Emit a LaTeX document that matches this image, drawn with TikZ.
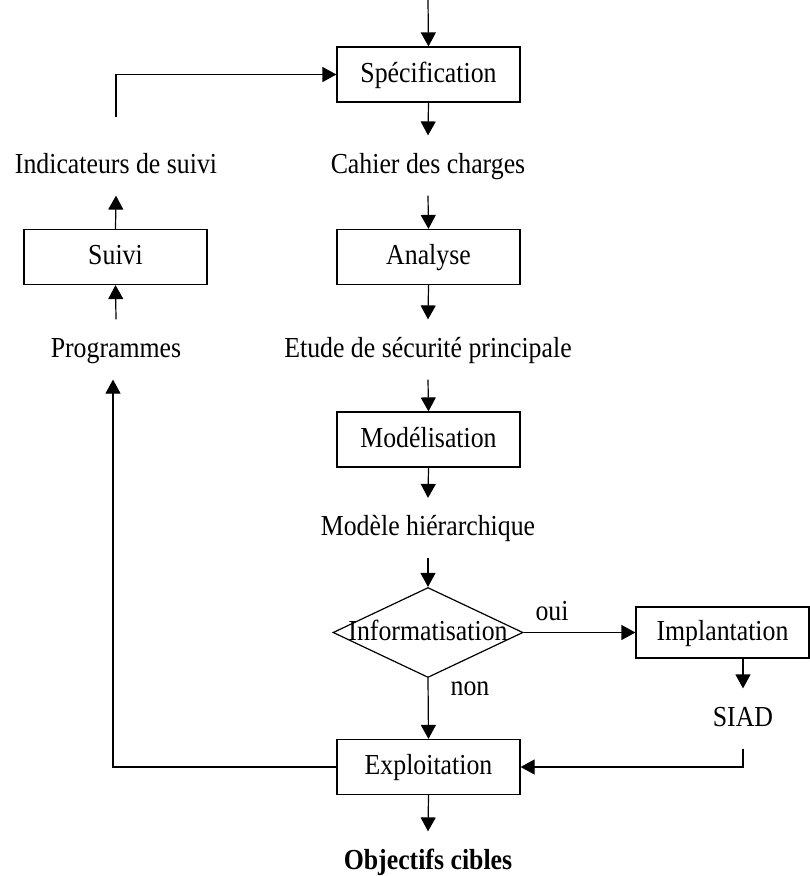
\documentclass[tikz,border=0pt]{standalone}
\usepackage{fontspec}
\setmainfont{Liberation Serif}[FakeStretch=0.89]
\usetikzlibrary{arrows.meta,shapes.geometric}

\begin{document}
\begin{tikzpicture}[x=1pt, y=-1pt, line width=1.2pt,
  font=\fontsize{29}{34}\selectfont,
  fleche/.style={-{Triangle[length=14pt,width=15pt]}},
  boite/.style={draw, minimum width=183pt, minimum height=55pt, inner sep=0pt,
    text height=21pt, text depth=6pt},
  etiq/.style={inner xsep=2pt, inner ysep=16pt, text height=21pt, text depth=6pt},
  mot/.style={inner sep=0pt, text height=21pt, text depth=6pt},
  losange/.style={draw, diamond, minimum width=190pt, minimum height=90pt, inner sep=0pt}]
  \useasboundingbox (0,0) rectangle (810,876);

  % Central chain
  \coordinate (entree) at (428,0);
  \node[boite] (spec) at (428.5,74.5) {Spécification};
  \node[etiq] (cahier) at (428,165.5) {Cahier des charges};
  \node[boite] (analyse) at (428.5,257) {Analyse};
  \node[etiq] (etude) at (428,349.5) {Etude de sécurité principale};
  \node[boite] (model) at (428.5,439.5) {Modélisation};
  \node[etiq] (hier) at (428,528) {Modèle hiérarchique};
  \node[losange] (info) at (428,632.5) {};
  \node[mot] (infotxt) at (info) {Informatisation};
  \node[boite] (expl) at (428.5,767) {Exploitation};
  \node[etiq] (cible) at (428,861.5) {\bfseries Objectifs cibles};

  \draw[fleche] (entree) -- (spec.north);
  \draw[fleche] (spec.south) -- (cahier.north);
  \draw[fleche] (cahier.south) -- (analyse.north);
  \draw[fleche] (analyse.south) -- (etude.north);
  \draw[fleche] (etude.south) -- (model.north);
  \draw[fleche] (model.south) -- (hier.north);
  \draw[fleche] (hier.south) -- (info.north);
  \draw[fleche] (info.south) -- (expl.north);
  \draw[fleche] (expl.south) -- (cible.north);

  % Branch oui / non
  \node[mot] (oui) at (552,612.5) {oui};
  \node[mot] (non) at (470,687.5) {non};
  \node[boite, minimum width=173pt, minimum height=51pt] (impl) at (722.5,632.5) {Implantation};
  \node[etiq] (siad) at (743,718.5) {SIAD};
  \draw[fleche] (info.east) -- (impl.west);
  \draw[fleche] (impl.south -| siad.north) -- (siad.north);
  \draw[fleche] (siad.south) |- (expl.east);

  % Feedback loop
  \node[boite] (suivi) at (115.5,257) {Suivi};
  \node[etiq] (indic) at (116,165.5) {Indicateurs de suivi};
  \node[etiq] (prog) at (116,349.5) {Programmes};
  \draw[fleche] (expl.west) -| ([xshift=-3pt]prog.south);
  \draw[fleche] (prog.north) -- (suivi.south);
  \draw[fleche] (suivi.north) -- (indic.south);
  \draw[fleche, shorten <=18pt] (indic.north) |- (spec.west);
\end{tikzpicture}
\end{document}
